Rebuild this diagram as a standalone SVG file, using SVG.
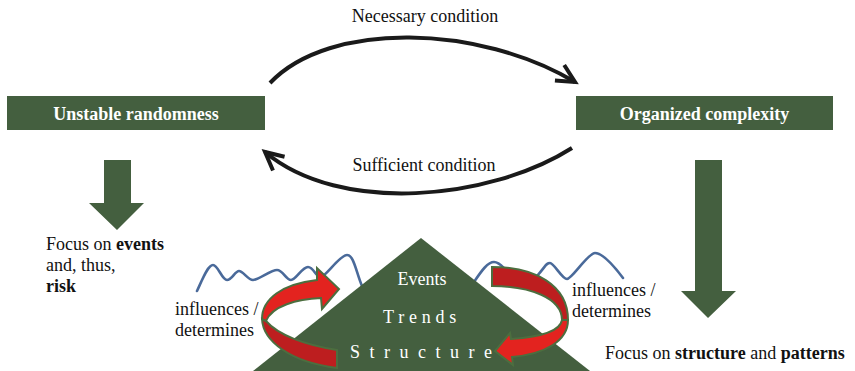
<svg xmlns="http://www.w3.org/2000/svg" width="855" height="371" viewBox="0 0 855 371">
<defs>
<style>
.t{font-family:"Liberation Serif","Times New Roman",serif;font-size:18px;fill:#111;}
.b{font-weight:bold;}
.w{fill:#fff;}
.g{fill:#445F3F;}
.conn{fill:none;stroke:#1a1a1a;stroke-width:4;stroke-linecap:butt;}
.wave{fill:none;stroke:#4A6A9A;stroke-width:2.6;stroke-linecap:round;stroke-linejoin:round;}
.rb{fill:#E3231F;stroke:#4C6E3F;stroke-width:2;}
.rd{fill:#BD1E1F;stroke:#4C6E3F;stroke-width:2;}
</style>
<marker id="chev" markerUnits="userSpaceOnUse" viewBox="-24 -15 30 30" markerWidth="30" markerHeight="30" refX="0" refY="0" orient="auto">
<path d="M-18,-9 L0,0 L-18,9" fill="none" stroke="#1a1a1a" stroke-width="4" stroke-linecap="butt" stroke-linejoin="miter"/>
</marker>
</defs>

<g id="connectors">
<path class="conn" d="M270,83 C330,20 480,25 575,82" marker-end="url(#chev)"/>
<path class="conn" d="M572,148 C490,200 340,215 265,152" marker-end="url(#chev)"/>
</g>
<g id="connector-labels">
<text class="t" x="425" y="22" text-anchor="middle">Necessary condition</text>
<text class="t" x="424" y="171" text-anchor="middle">Sufficient condition</text>
</g>

<g id="node-unstable">
<rect class="g" x="7" y="96" width="258" height="34"/>
<text class="t b w" x="136" y="120" text-anchor="middle">Unstable randomness</text>
</g>

<g id="node-organized">
<rect class="g" x="576" y="96" width="257" height="34"/>
<text class="t b w" x="704.5" y="120" text-anchor="middle">Organized complexity</text>
</g>

<g id="focus-events">
<path class="g" d="M104,160 H131 V203 H144 L117,230 L89,203 H104 Z"/>
<text class="t" x="46" y="250">Focus on <tspan class="b">events</tspan></text>
<text class="t" x="46" y="271">and, thus,</text>
<text class="t b" x="46" y="292">risk</text>
</g>

<g id="focus-structure">
<path class="g" d="M695,160 H722 V291 H736 L708,318 L681,291 H695 Z"/>
<text class="t" x="605" y="359">Focus on <tspan class="b">structure</tspan> and <tspan class="b">patterns</tspan></text>
</g>

<g id="waves">
<path class="wave" d="M197,291 C203,278 208,265 213,265 S222,280 227,280 S235,271 239,271 S248,280 253,280 S271,270 277,270 S286,280 291,280 S302,267 308,267 S316,278 321,277 S340,255 347,255 S356,272 362,286"/>
<path class="wave" d="M474,282 C482,270 488,262 494,262 S503,268 508,272 S528,286 537,276 S546,263 550,263 S562,279 567,279 S588,253 595,253 S614,266 623,278"/>
</g>

<g id="node-pyramid">
<polygon class="g" points="421,238 253,371 590,371"/>
<text class="t w" x="422" y="285" text-anchor="middle">Events</text>
<text class="t w" x="383" y="323" letter-spacing="4.8">Trends</text>
<text class="t w" x="350" y="358" letter-spacing="9.5">Structure</text>
</g>

<g id="loop-left">
<path class="rd" d="M262,319 C263,341 290,362 337,368 L337,350 C305,345 278,335 266,321 Z"/>
<path class="rb" d="M262,319 C262,299 282,284 317,280 L317,268 L339,289 L322,309 L321,298 C297,299 272,306 266,321 Z"/>
<text class="t" x="175" y="315">influences /</text>
<text class="t" x="175" y="336">determines</text>
</g>

<g id="loop-right">
<path class="rd" d="M492,267 C535,267 568,285 568,320 L562,320 C562,298 530,286 492,286 Z"/>
<path class="rb" d="M568,320 C568,341 545,354 512,357 L513,365 L495,351 L510,333 L511,339 C540,337 560,332 562,320 Z"/>
<text class="t" x="572" y="296">influences /</text>
<text class="t" x="572" y="317">determines</text>
</g>
</svg>
